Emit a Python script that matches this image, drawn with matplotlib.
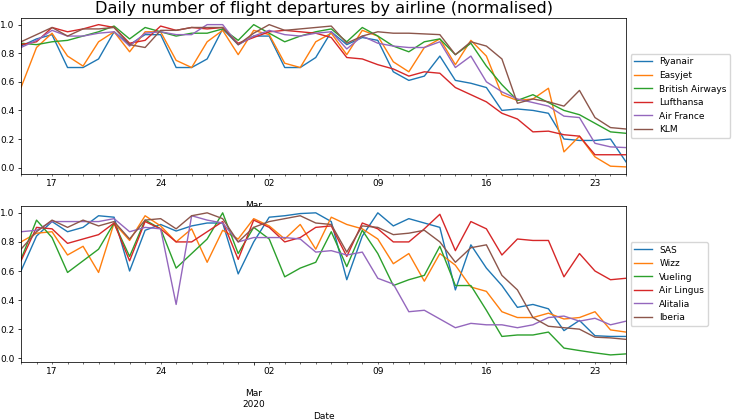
import pandas as pd
import matplotlib
matplotlib.use("Agg")
from matplotlib import pyplot as plt
import matplotlib.dates as mdates
from matplotlib.ticker import FuncFormatter

dates = pd.date_range("2020-02-15", "2020-03-25", freq="D")

top_names = ["Ryanair", "Easyjet", "British Airways", "Lufthansa", "Air France", "KLM"]
ryanair = [0.85, 0.90, 0.93, 0.70, 0.70, 0.76, 0.95, 0.86, 0.93, 0.93,
           0.70, 0.70, 0.76, 0.97, 0.86, 0.92, 0.92, 0.70, 0.70, 0.77,
           0.95, 0.86, 0.91, 0.89, 0.67, 0.61, 0.64, 0.78, 0.61, 0.59,
           0.56, 0.40, 0.41, 0.40, 0.38, 0.20, 0.19, 0.19, 0.20, 0.04]
easyjet = [0.56, 0.84, 0.94, 0.78, 0.71, 0.88, 0.95, 0.81, 0.95, 0.95,
           0.75, 0.70, 0.88, 0.96, 0.79, 0.96, 0.93, 0.73, 0.70, 0.88,
           0.94, 0.79, 0.96, 0.92, 0.74, 0.67, 0.84, 0.90, 0.72, 0.89,
           0.78, 0.51, 0.47, 0.48, 0.555, 0.11, 0.22, 0.075, 0.01, 0.005]
british = [0.87, 0.86, 0.88, 0.89, 0.92, 0.95, 0.99, 0.90, 0.98, 0.95,
           0.92, 0.94, 0.94, 0.97, 0.89, 1.00, 0.94, 0.88, 0.92, 0.95,
           0.97, 0.88, 0.98, 0.92, 0.85, 0.81, 0.88, 0.90, 0.79, 0.87,
           0.71, 0.58, 0.47, 0.51, 0.455, 0.40, 0.37, 0.31, 0.25, 0.24]
lufthansa = [0.86, 0.88, 0.98, 0.95, 0.97, 1.00, 0.98, 0.87, 0.89, 0.99,
             0.96, 0.98, 0.97, 0.98, 0.87, 0.91, 0.95, 0.96, 0.95, 0.94,
             0.91, 0.77, 0.76, 0.72, 0.69, 0.64, 0.67, 0.66, 0.56, 0.51,
             0.46, 0.38, 0.34, 0.25, 0.255, 0.23, 0.22, 0.09, 0.09, 0.09]
air_france = [0.84, 0.89, 0.96, 0.92, 0.92, 0.94, 0.95, 0.85, 0.94, 0.95,
              0.93, 0.93, 1.00, 1.00, 0.86, 0.92, 0.96, 0.93, 0.92, 0.94,
              0.95, 0.83, 0.92, 0.87, 0.85, 0.84, 0.84, 0.88, 0.70, 0.78,
              0.60, 0.53, 0.48, 0.455, 0.43, 0.36, 0.35, 0.17, 0.145, 0.14]
klm = [0.88, 0.93, 0.98, 0.92, 0.97, 0.97, 0.98, 0.86, 0.84, 0.96,
       0.96, 0.98, 0.98, 0.98, 0.86, 0.94, 1.00, 0.96, 0.97, 0.98,
       0.99, 0.87, 0.92, 0.95, 0.94, 0.94, 0.935, 0.93, 0.79, 0.88,
       0.85, 0.76, 0.45, 0.48, 0.46, 0.43, 0.54, 0.35, 0.28, 0.27]

bottom_names = ["SAS", "Wizz", "Vueling", "Air Lingus", "Alitalia", "Iberia"]
sas = [0.60, 0.84, 0.94, 0.87, 0.90, 0.98, 0.97, 0.60, 0.88, 0.92,
       0.875, 0.91, 0.93, 0.93, 0.58, 0.80, 0.97, 0.98, 0.995, 1.00,
       0.94, 0.54, 0.84, 1.00, 0.91, 0.96, 0.93, 0.90, 0.47, 0.78,
       0.62, 0.50, 0.35, 0.37, 0.34, 0.19, 0.26, 0.155, 0.15, 0.15]
wizz = [0.80, 0.86, 0.87, 0.71, 0.77, 0.59, 0.93, 0.81, 0.98, 0.91,
        0.80, 0.89, 0.66, 0.88, 0.82, 0.96, 0.91, 0.82, 0.92, 0.75,
        0.97, 0.92, 0.89, 0.82, 0.65, 0.72, 0.53, 0.72, 0.64, 0.49,
        0.46, 0.32, 0.28, 0.28, 0.31, 0.27, 0.28, 0.32, 0.195, 0.18]
vueling = [0.68, 0.95, 0.83, 0.59, 0.67, 0.75, 0.93, 0.70, 0.95, 0.89,
           0.62, 0.72, 0.82, 1.00, 0.72, 0.90, 0.82, 0.56, 0.62, 0.66,
           0.87, 0.63, 0.88, 0.72, 0.50, 0.54, 0.57, 0.77, 0.50, 0.50,
           0.33, 0.15, 0.16, 0.16, 0.18, 0.07, 0.053, 0.037, 0.023, 0.03]
air_lingus = [0.67, 0.90, 0.89, 0.79, 0.82, 0.85, 0.93, 0.67, 0.94, 0.89,
              0.80, 0.80, 0.87, 0.94, 0.68, 0.95, 0.90, 0.80, 0.83, 0.90,
              0.91, 0.70, 0.93, 0.89, 0.80, 0.80, 0.89, 0.99, 0.74, 0.94,
              0.89, 0.71, 0.82, 0.81, 0.81, 0.56, 0.72, 0.60, 0.54, 0.55]
alitalia = [0.87, 0.88, 0.94, 0.94, 0.94, 0.94, 0.96, 0.87, 0.90, 0.89,
            0.37, 0.98, 0.95, 0.93, 0.80, 0.83, 0.83, 0.83, 0.82, 0.73,
            0.74, 0.71, 0.73, 0.55, 0.51, 0.32, 0.33, 0.27, 0.21, 0.24,
            0.23, 0.23, 0.21, 0.23, 0.28, 0.29, 0.255, 0.275, 0.23, 0.255]
iberia = [0.75, 0.87, 0.95, 0.90, 0.95, 0.91, 0.94, 0.82, 0.95, 0.96,
          0.89, 0.98, 1.00, 0.96, 0.80, 0.90, 0.94, 0.96, 0.98, 0.93,
          0.92, 0.73, 0.91, 0.90, 0.85, 0.86, 0.88, 0.80, 0.66, 0.76,
          0.78, 0.57, 0.47, 0.28, 0.22, 0.21, 0.20, 0.145, 0.14, 0.13]

top_series = [ryanair, easyjet, british, lufthansa, air_france, klm]
bottom_series = [sas, wizz, vueling, air_lingus, alitalia, iberia]

plt.rcParams.update({
    "font.size": 6.5,
    "lines.linewidth": 1.0,
    "axes.linewidth": 0.55,
    "xtick.major.size": 2.3,
    "xtick.minor.size": 1.3,
    "ytick.major.size": 2.3,
    "xtick.major.width": 0.55,
    "xtick.minor.width": 0.4,
    "ytick.major.width": 0.55,
    "xtick.major.pad": 2.3,
    "xtick.minor.pad": 2.3,
    "ytick.major.pad": 2.3,
    "axes.labelpad": 2.3,
})


def minor_label(x, pos):
    d = mdates.num2date(x)
    if d.weekday() == 0:
        return d.strftime("%d")
    return ""


def major_label(x, pos):
    return mdates.num2date(x).strftime("\n\n%b\n%Y")


def draw(ax, names, series):
    for name, vals in zip(names, series):
        ax.plot(dates, vals, label=name)
    ax.set_xlim(dates[0], dates[-1])
    ax.xaxis.set_major_locator(mdates.MonthLocator())
    ax.xaxis.set_major_formatter(FuncFormatter(major_label))
    ax.xaxis.set_minor_locator(mdates.DayLocator())
    ax.xaxis.set_minor_formatter(FuncFormatter(minor_label))
    ax.set_xlabel("Date")
    ax.legend(loc="center left", bbox_to_anchor=(1.0, 0.5))


fig = plt.figure(figsize=(7.32, 4.19), dpi=100)
ax1 = fig.add_axes([0.0287, 0.5847, 0.8265, 0.3735])
ax2 = fig.add_axes([0.0287, 0.136, 0.8265, 0.373])
draw(ax1, top_names, top_series)
draw(ax2, bottom_names, bottom_series)

fig.text(0.442, 1 - 13 / 419, "Daily number of flight departures by airline (normalised)",
         ha="center", va="baseline", fontsize=11.6)

plt.savefig("out.png", dpi=100)
